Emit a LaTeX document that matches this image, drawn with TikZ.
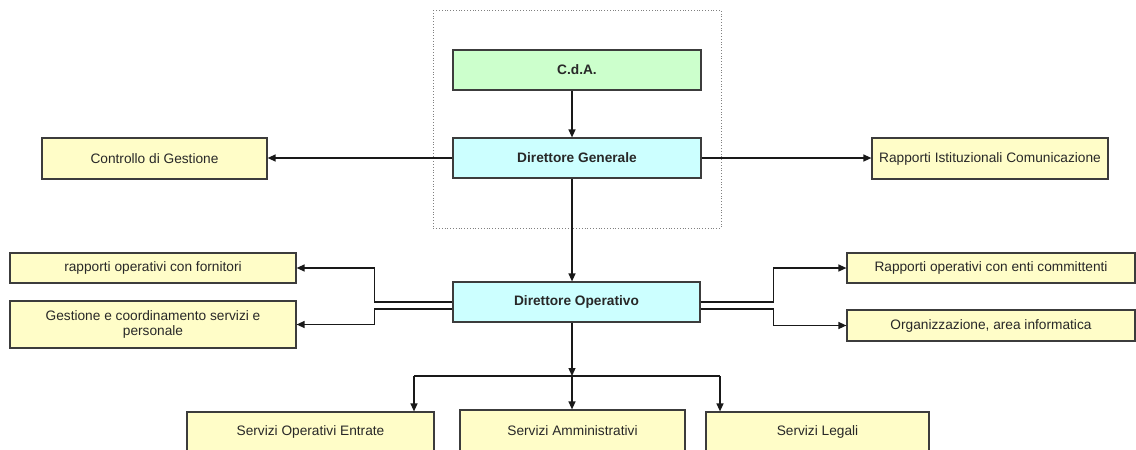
\documentclass[tikz,border=0pt]{standalone}
\usepackage{fontspec}
\setmainfont{Liberation Sans}
\usetikzlibrary{arrows.meta}
\definecolor{boxyellow}{RGB}{255,253,200}
\definecolor{boxgreen}{RGB}{204,255,204}
\definecolor{boxcyan}{RGB}{204,255,255}
\definecolor{boxline}{RGB}{60,60,60}
\definecolor{boxtext}{RGB}{40,40,40}

\begin{document}
\begin{tikzpicture}[x=1pt,y=-1pt,
  box/.style={draw=boxline,line width=1.2pt,fill=boxyellow,inner sep=0pt,align=center,
    font=\fontsize{13.7}{15.5}\selectfont,text=boxtext},
  headbox/.style={box,font=\fontsize{13.7}{15.5}\selectfont\bfseries},
  arr/.style={-{Triangle[length=8pt,width=7pt]},line width=1.3pt,draw=black!90},
  link/.style={line width=1.3pt,draw=black!90}]
\useasboundingbox (0,0) rectangle (1136,450);
\draw [gray,dotted,line width=0.8pt] (433,10) rectangle (721,228);
\coordinate (spine) at (572,0);
\node [headbox,fill=boxgreen,minimum width=248pt,minimum height=40pt] (cda) at (577,70) {C.d.A.};
\node [headbox,fill=boxcyan,minimum width=248pt,minimum height=40pt] (dg) at (577,158) {Direttore Generale};
\node [box,minimum width=225pt,minimum height=41pt] (cdg) at (154.5,158.5) {Controllo di Gestione};
\node [box,minimum width=236pt,minimum height=41pt] (ric) at (990,158.5) {Rapporti Istituzionali Comunicazione};
\node [headbox,fill=boxcyan,minimum width=247pt,minimum height=40pt] (do) at (576.5,302) {Direttore Operativo};
\node [box,minimum width=286pt,minimum height=30pt] (rof) at (153,268) {rapporti operativi con fornitori};
\node [box,minimum width=286pt,minimum height=47pt] (gcs) at (153,324.5) {Gestione e coordinamento servizi e\\personale};
\node [box,minimum width=288pt,minimum height=30pt] (roe) at (991,268) {Rapporti operativi con enti committenti};
\node [box,minimum width=288pt,minimum height=31pt] (oai) at (991,325.5) {Organizzazione, area informatica};
\node [box,minimum width=247pt,minimum height=40pt] (soe) at (310.5,432) {Servizi Operativi Entrate};
\node [box,minimum width=225pt,minimum height=42pt] (sam) at (572.5,431) {Servizi Amministrativi};
\node [box,minimum width=223pt,minimum height=40pt] (sle) at (817.5,432) {Servizi Legali};
\draw [arr] (cda.south -| spine) -- (dg.north -| spine);
\draw [arr] (dg.west) -- (dg.west -| cdg.east);
\draw [arr] (dg.east) -- (dg.east -| ric.west);
\draw [arr] (dg.south -| spine) -- (do.north -| spine);
\draw [arr] (do.west) -- ++(-78,0) |- (rof.east);
\draw [arr] ([yshift=-7pt]do.west) -- ++(-78,0) |- (gcs.east);
\draw [arr] (do.east) -- ++(73,0) |- (roe.west);
\draw [arr] ([yshift=-7pt]do.east) -- ++(73,0) |- (oai.west);
\coordinate (hub) at (572,376);
\coordinate (hubl) at (414,376);
\coordinate (hubr) at (720,376);
\draw [arr] (do.south -| hub) -- (hub);
\draw [link] (hubl) -- (hubr);
\draw [arr] (hubl) -- (hubl |- soe.north);
\draw [arr] (hub) -- (hub |- sam.north);
\draw [arr] (hubr) -- (hubr |- sle.north);
\end{tikzpicture}
\end{document}
